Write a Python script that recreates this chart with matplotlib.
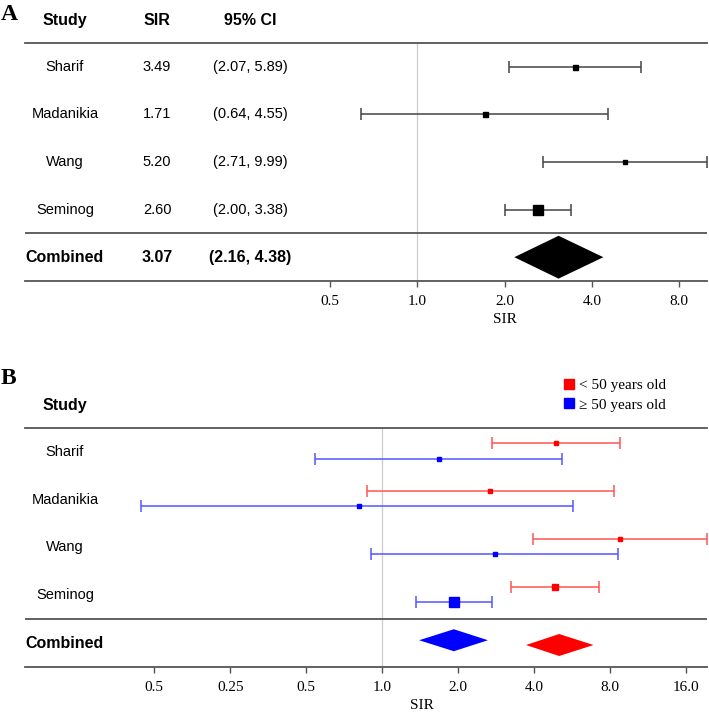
import numpy as np
import matplotlib
matplotlib.use('Agg')
import matplotlib.pyplot as plt
from matplotlib.lines import Line2D

# panel A data
studies = ['Sharif', 'Madanikia', 'Wang', 'Seminog']
sir_a = [3.49, 1.71, 5.20, 2.60]
lo_a = [2.07, 0.64, 2.71, 2.00]
hi_a = [5.89, 4.55, 9.99, 3.38]
comb_a = [2.16, 3.07, 4.38]
ms_a = [3.6, 3.6, 2.9, 7.4]

# panel B data
sir_young = [4.87, 2.67, 8.72, 4.83]
lo_young = [2.71, 0.87, 3.94, 3.24]
hi_young = [8.76, 8.25, 19.4, 7.20]
sir_old = [1.67, 0.81, 2.79, 1.93]
lo_old = [0.54, 0.111, 0.90, 1.36]
hi_old = [5.13, 5.71, 8.61, 2.73]
comb_young = [3.71, 5.02, 6.86]
comb_old = [1.40, 1.92, 2.62]
ms_young = [3.0, 3.0, 3.0, 3.8]
ms_old = [3.0, 3.0, 3.0, 7.2]

ticks_a = [0.5, 1.0, 2.0, 4.0, 8.0]
ticklabels_a = ['0.5', '1.0', '2.0', '4.0', '8.0']
ticks_b = [0.125, 0.25, 0.5, 1.0, 2.0, 4.0, 8.0, 16.0]
ticklabels_b = ['0.5', '0.25', '0.5', '1.0', '2.0', '4.0', '8.0', '16.0']

W, H = 709, 712
sans = 'Liberation Sans'
serif = 'Liberation Serif'
line_col = '#555555'


def make_axes(top, bottom, xmin_log2, xmax_log2):
    ax = plt.axes([25 / W, 1 - bottom / H, 682 / W, (bottom - top) / H])
    ax.set_xscale('log', base=2)
    ax.set_xlim(2 ** xmin_log2, 2 ** xmax_log2)
    ax.set_ylim(4.5, -0.5)
    for s in ['left', 'right']:
        ax.spines[s].set_visible(False)
    for s in ['top', 'bottom']:
        ax.spines[s].set_color(line_col)
        ax.spines[s].set_linewidth(1.3)
    ax.axhline(3.5, color=line_col, lw=1.3)
    ax.axvline(1.0, color='#cccccc', lw=0.9, zorder=0)
    ax.set_yticks([])
    ax.xaxis.set_minor_locator(matplotlib.ticker.NullLocator())
    ax.tick_params(axis='x', length=4, width=1, color=line_col, pad=6)
    return ax


def diamond(ax, vals, y, h, color):
    lo, mid, hi = vals
    ax.fill([lo, mid, hi, mid], [y, y - h, y, y + h], color=color, lw=0, zorder=3)


fig = plt.figure(figsize=(W / 100, H / 100), dpi=100)

# ---------- panel A ----------
axA = make_axes(43, 281, (25 - 417.3) / 87.3, (707 - 417.3) / 87.3)
for i in range(len(studies)):
    axA.errorbar(sir_a[i], i, xerr=[[sir_a[i] - lo_a[i]], [hi_a[i] - sir_a[i]]],
                 fmt='s', color='black', ecolor='#444444', elinewidth=1.1,
                 capsize=4, capthick=1.1, ms=ms_a[i], clip_on=False, zorder=3)
diamond(axA, comb_a, 4, 0.45, 'black')
axA.set_xticks(ticks_a)
axA.set_xticklabels(ticklabels_a, fontfamily=serif, fontsize=11)
axA.set_xlabel('SIR', fontfamily=serif, fontsize=11, labelpad=0)
axA.xaxis.set_label_coords((505 - 25) / 682, -0.135)

tr = axA.get_yaxis_transform()
col_x = [(65 - 25) / 682, (157 - 25) / 682, (250 - 25) / 682]
for x, t in zip(col_x, ['Study', 'SIR', '95% CI']):
    axA.text(x, -0.97, t, transform=tr, ha='center', va='center',
             fontfamily=sans, fontsize=11.5, fontweight='bold')
for i, s in enumerate(studies):
    axA.text(col_x[0], i, s, transform=tr, ha='center', va='center', fontfamily=sans, fontsize=10.5)
    axA.text(col_x[1], i, f'{sir_a[i]:.2f}', transform=tr, ha='center', va='center',
             fontfamily=sans, fontsize=10.5)
    axA.text(col_x[2], i, f'({lo_a[i]:.2f}, {hi_a[i]:.2f})', transform=tr, ha='center',
             va='center', fontfamily=sans, fontsize=10.5)
axA.text(col_x[0], 4, 'Combined', transform=tr, ha='center', va='center',
         fontfamily=sans, fontsize=11.5, fontweight='bold')
axA.text(col_x[1], 4, f'{comb_a[1]:.2f}', transform=tr, ha='center', va='center',
         fontfamily=sans, fontsize=11.5, fontweight='bold')
axA.text(col_x[2], 4, f'({comb_a[0]:.2f}, {comb_a[2]:.2f})', transform=tr, ha='center',
         va='center', fontfamily=sans, fontsize=11.5, fontweight='bold')
fig.text(1 / W, 1 - 15 / H, 'A', fontfamily=serif, fontsize=17, fontweight='bold',
         ha='left', va='center')

# ---------- panel B ----------
axB = make_axes(428, 667, (25 - 382.3) / 76, (707 - 382.3) / 76)
groups = [(sir_young, lo_young, hi_young, ms_young, '#ff0000', '#ff5555', -0.18),
          (sir_old, lo_old, hi_old, ms_old, '#0000ff', '#5555ff', 0.14)]
for sir, lo, hi, ms, c, ec, dy in groups:
    for i in range(len(studies)):
        axB.errorbar(sir[i], i + dy, xerr=[[sir[i] - lo[i]], [hi[i] - sir[i]]],
                     fmt='s', color=c, ecolor=ec, elinewidth=1.1, capsize=4,
                     capthick=1.1, ms=ms[i], clip_on=False, zorder=3)
diamond(axB, comb_old, 3.94, 0.23, '#0000ff')
diamond(axB, comb_young, 4.04, 0.23, '#ff0000')
axB.set_xticks(ticks_b)
axB.set_xticklabels(ticklabels_b, fontfamily=serif, fontsize=11)
axB.set_xlabel('SIR', fontfamily=serif, fontsize=11, labelpad=0)
axB.xaxis.set_label_coords((422 - 25) / 682, -0.135)

trB = axB.get_yaxis_transform()
axB.text(col_x[0], -0.97, 'Study', transform=trB, ha='center', va='center',
         fontfamily=sans, fontsize=11.5, fontweight='bold')
for i, s in enumerate(studies):
    axB.text(col_x[0], i, s, transform=trB, ha='center', va='center', fontfamily=sans, fontsize=10.5)
axB.text(col_x[0], 4, 'Combined', transform=trB, ha='center', va='center',
         fontfamily=sans, fontsize=11.5, fontweight='bold')
fig.text(1 / W, 1 - 378 / H, 'B', fontfamily=serif, fontsize=17, fontweight='bold',
         ha='left', va='center')

handles = [Line2D([], [], marker='s', ls='', color='#ff0000', ms=7),
           Line2D([], [], marker='s', ls='', color='#0000ff', ms=7)]
fig.legend(handles, ['< 50 years old', '\u2265 50 years old'], loc='center left',
           bbox_to_anchor=(558 / W, 1 - 395 / H), frameon=False, handlelength=0.6,
           handletextpad=0.35, labelspacing=0.4, borderaxespad=0,
           prop={'family': [serif, 'DejaVu Serif'], 'size': 11})

fig.savefig('out.png', dpi=100)
